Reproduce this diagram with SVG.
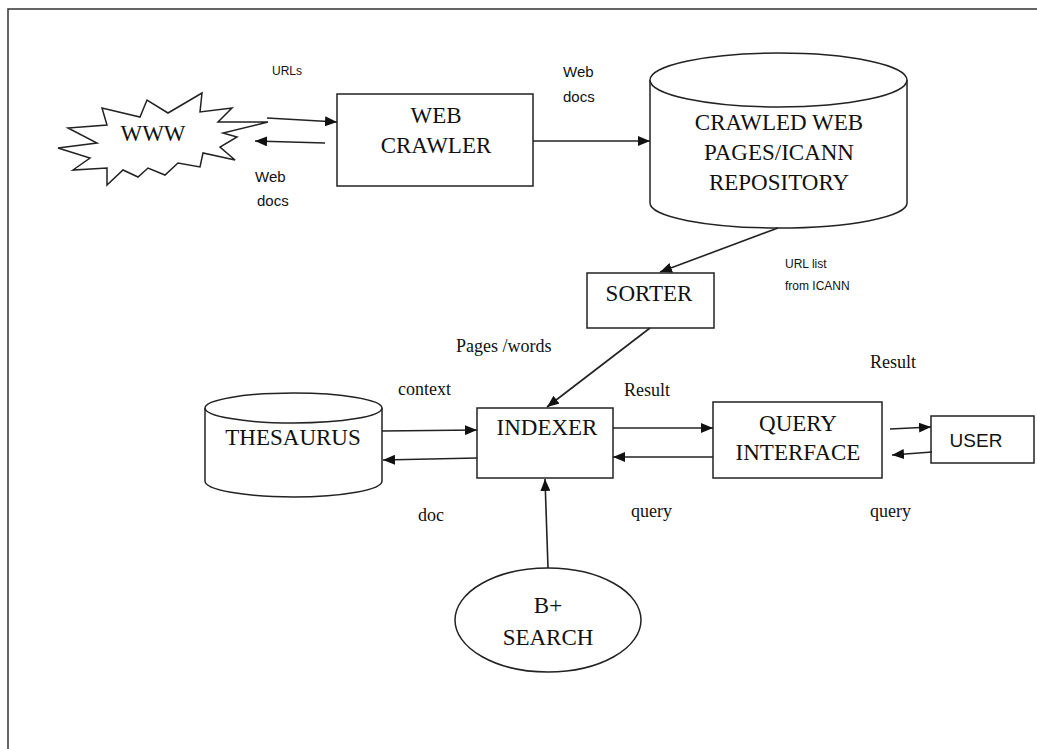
<svg xmlns="http://www.w3.org/2000/svg" width="1037" height="749" viewBox="0 0 1037 749">
  <defs>
    <marker id="arrow" viewBox="0 0 12 10" refX="12" refY="5" markerWidth="12" markerHeight="10" markerUnits="userSpaceOnUse" orient="auto">
      <path d="M0,0 L12,5 L0,10 Z" fill="#111"/>
    </marker>
    <style>
      .shape { fill: #fff; stroke: #222; stroke-width: 1.5; }
      .edge { fill: none; stroke: #222; stroke-width: 1.6; marker-end: url(#arrow); }
      .frame { fill: none; stroke: #333; stroke-width: 1.5; }
      .title { font-family: "Liberation Serif", "Times New Roman", serif; font-size: 23px; fill: #111; text-anchor: middle; }
      .lbl { font-family: "Liberation Serif", "Times New Roman", serif; font-size: 18px; fill: #111; }
      .note { font-family: "Liberation Sans", Arial, sans-serif; font-size: 15px; fill: #111; }
      .small { font-family: "Liberation Sans", Arial, sans-serif; font-size: 12px; fill: #111; }
    </style>
  </defs>
  <rect width="1037" height="749" fill="#fff"/>

  <!-- page frame (top and left edges) -->
  <path class="frame" d="M8,749 L8,9 L1037,9"/>

  <!-- WWW burst -->
  <g id="www">
    <polygon class="shape" points="58,148 97,143 68,128 107,125 102,108 140,117 147,100 168,113 202,93 200,112 232,108 218,122 268,122 223,133 237,137 220,147 235,160 203,153 200,167 178,163 165,175 148,168 138,177 123,170 107,185 107,168 73,170 90,158"/>
    <text class="title" x="153" y="141" font-size="22">WWW</text>
  </g>

  <!-- web crawler -->
  <g id="web-crawler">
    <rect class="shape" x="337" y="94" width="196" height="92"/>
    <text class="title" x="436" y="123">WEB</text>
    <text class="title" x="436" y="153">CRAWLER</text>
  </g>

  <!-- repository -->
  <g id="repository">
    <path class="shape" d="M650,80 L650,203 A128.5,25 0 0 0 907,203 L907,80"/>
    <ellipse class="shape" cx="778.5" cy="80" rx="128.5" ry="27"/>
    <text class="title" x="779" y="130">CRAWLED WEB</text>
    <text class="title" x="779" y="160">PAGES/ICANN</text>
    <text class="title" x="779" y="190">REPOSITORY</text>
  </g>

  <!-- sorter -->
  <g id="sorter">
    <rect class="shape" x="587" y="273" width="127" height="55"/>
    <text class="title" x="649" y="301">SORTER</text>
  </g>

  <!-- thesaurus -->
  <g id="thesaurus">
    <path class="shape" d="M205,408 L205,481 A88.5,16 0 0 0 382,481 L382,408"/>
    <ellipse class="shape" cx="293.5" cy="408" rx="88.5" ry="15"/>
    <text class="title" x="293" y="445">THESAURUS</text>
  </g>

  <!-- indexer -->
  <g id="indexer">
    <rect class="shape" x="477" y="408" width="136" height="70"/>
    <text class="title" x="547" y="435">INDEXER</text>
  </g>

  <!-- query interface -->
  <g id="query-interface">
    <rect class="shape" x="713" y="402" width="169" height="76"/>
    <text class="title" x="798" y="431">QUERY</text>
    <text class="title" x="798" y="460">INTERFACE</text>
  </g>

  <!-- user -->
  <g id="user">
    <rect class="shape" x="931" y="416" width="103" height="47"/>
    <text x="976" y="447" font-family="Liberation Sans, Arial, sans-serif" font-size="19" fill="#111" text-anchor="middle">USER</text>
  </g>

  <!-- B+ search -->
  <g id="bplus-search">
    <ellipse class="shape" cx="548" cy="620" rx="93" ry="52"/>
    <text class="title" x="548" y="613">B+</text>
    <text class="title" x="548" y="645">SEARCH</text>
  </g>

  <!-- connectors -->
  <g id="connectors">
    <path class="edge" d="M267,118 L337,122"/>
    <path class="edge" d="M325,143 L255,141"/>
    <path class="edge" d="M533,141 L650,141"/>
    <path class="edge" d="M778,228 L660,272"/>
    <path class="edge" d="M650,328 L547,407"/>
    <path class="edge" d="M382,431 L477,430"/>
    <path class="edge" d="M477,458 L383,460"/>
    <path class="edge" d="M613,428 L713,428"/>
    <path class="edge" d="M713,457 L613,457"/>
    <path class="edge" d="M890,429 L931,427"/>
    <path class="edge" d="M932,452 L892,455"/>
    <path class="edge" d="M548,568 L545,479"/>
  </g>

  <!-- connector labels -->
  <g id="labels">
    <text class="small" x="272" y="75">URLs</text>
    <text class="note" x="255" y="182">Web</text>
    <text class="note" x="257" y="206">docs</text>
    <text class="note" x="563" y="77">Web</text>
    <text class="note" x="563" y="102">docs</text>
    <text class="small" x="785" y="268">URL list</text>
    <text class="small" x="785" y="290">from ICANN</text>
    <text class="lbl" x="456" y="352">Pages /words</text>
    <text class="lbl" x="398" y="395">context</text>
    <text class="lbl" x="418" y="521">doc</text>
    <text class="lbl" x="624" y="396">Result</text>
    <text class="lbl" x="631" y="517">query</text>
    <text class="lbl" x="870" y="368" font-size="15">Result</text>
    <text class="lbl" x="870" y="517">query</text>
  </g>
</svg>
